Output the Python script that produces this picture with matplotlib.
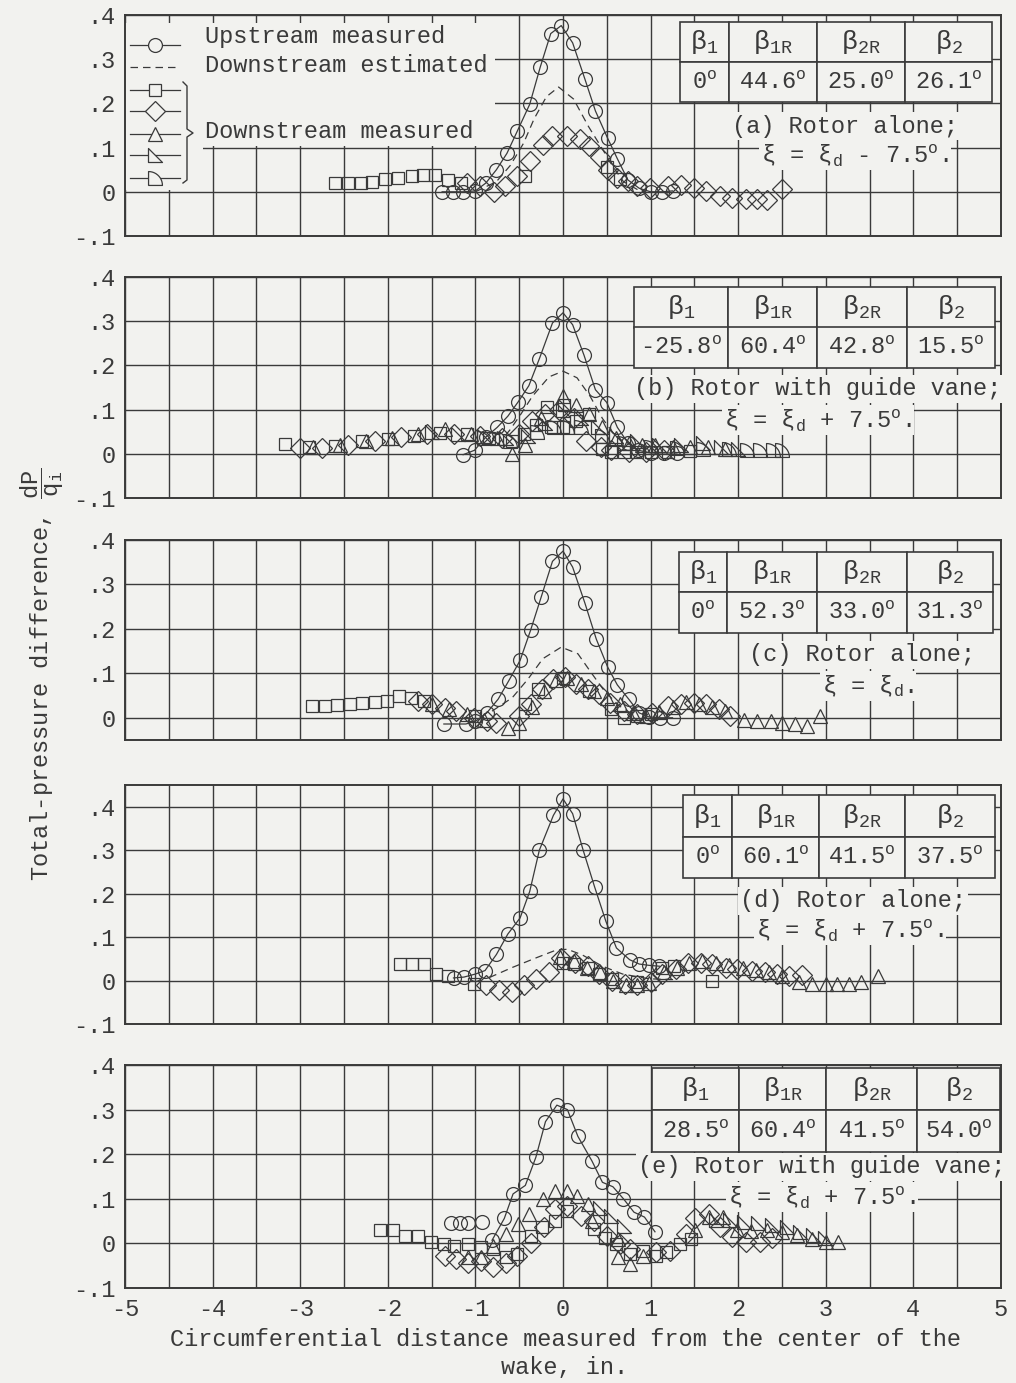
import numpy as np
import matplotlib.pyplot as plt
from matplotlib.path import Path
from matplotlib.patches import Rectangle

plt.rcParams['font.family'] = ['Liberation Mono', 'DejaVu Sans Mono']
plt.rcParams['mathtext.fontset'] = 'custom'
plt.rcParams['mathtext.rm'] = 'Liberation Mono'
plt.rcParams['mathtext.it'] = 'Liberation Mono'
plt.rcParams['mathtext.default'] = 'regular'
plt.rcParams['axes.unicode_minus'] = False

bg = '#f2f2ef'
ink = '#3a3a3a'

# ---- data (x in inches, y = dP/qi) ----
# (a) rotor alone, xi = xi_d - 7.5
up_a_x = [-1.38, -1.26, -1.14, -1.00, -0.88, -0.76, -0.64, -0.52, -0.38, -0.26, -0.14, -0.02, 0.11, 0.25, 0.37, 0.51, 0.62, 0.74, 0.87, 1.00, 1.13, 1.25]
up_a_y = [0.0, 0.0, 0.0, 0.002, 0.02, 0.05, 0.087, 0.138, 0.198, 0.282, 0.358, 0.376, 0.337, 0.255, 0.183, 0.121, 0.075, 0.027, 0.008, 0.0, 0.0, 0.002]
est_a_x = [-1.0, -0.76, -0.6, -0.45, -0.33, -0.19, -0.05, 0.12, 0.29, 0.44, 0.57, 0.69, 0.85]
est_a_y = [0.0, 0.023, 0.06, 0.11, 0.165, 0.215, 0.237, 0.21, 0.148, 0.10, 0.057, 0.023, 0.005]
sq_a_x = [-2.60, -2.45, -2.31, -2.18, -2.03, -1.88, -1.72, -1.60, -1.46, -1.31, -1.17, -0.43, 0.50, 0.65]
sq_a_y = [0.02, 0.02, 0.02, 0.022, 0.028, 0.032, 0.035, 0.038, 0.038, 0.027, 0.02, 0.035, 0.057, 0.03]
dia_a_x = [-1.10, -0.95, -0.79, -0.66, -0.53, -0.38, -0.23, -0.12, 0.04, 0.19, 0.30, 0.42, 0.51, 0.62, 0.74, 0.85, 0.99, 1.20, 1.35, 1.50, 1.63, 1.79, 1.93, 2.09, 2.22, 2.33, 2.50]
dia_a_y = [0.02, 0.012, 0.0, 0.012, 0.035, 0.069, 0.106, 0.127, 0.127, 0.12, 0.104, 0.078, 0.05, 0.032, 0.024, 0.014, 0.009, 0.012, 0.016, 0.009, 0.002, -0.009, -0.015, -0.017, -0.017, -0.018, 0.006]

# (b) rotor with guide vane, xi = xi_d + 7.5
up_b_x = [-1.14, -1.01, -0.88, -0.75, -0.63, -0.51, -0.39, -0.27, -0.12, 0.0, 0.11, 0.24, 0.37, 0.50, 0.62, 0.74, 0.86, 1.0, 1.15, 1.30]
up_b_y = [-0.002, 0.008, 0.038, 0.06, 0.085, 0.118, 0.154, 0.215, 0.296, 0.319, 0.292, 0.223, 0.145, 0.116, 0.06, 0.025, 0.008, 0.002, 0.002, 0.002]
est_b_x = [-0.75, -0.61, -0.48, -0.35, -0.16, 0.0, 0.16, 0.31, 0.45, 0.6, 0.75]
est_b_y = [0.02, 0.053, 0.09, 0.13, 0.174, 0.187, 0.172, 0.13, 0.08, 0.04, 0.02]
sq_b_x = [-3.17, -2.9, -2.6, -2.3, -2.0, -1.7, -1.4, -1.1, -0.85, -0.58, -0.45, -0.31, -0.18, -0.14, 0.0, 0.01, 0.15, 0.30, 0.45, 0.55, 0.70, 0.85, 1.0, 1.2, 1.45]
sq_b_y = [0.022, 0.016, 0.018, 0.028, 0.034, 0.04, 0.048, 0.045, 0.035, 0.03, 0.045, 0.065, 0.107, 0.061, 0.061, 0.11, 0.075, 0.09, 0.01, 0.003, 0.003, 0.004, 0.004, 0.005, 0.006]
dia_b_x = [-3.0, -2.75, -2.45, -2.15, -1.85, -1.55, -1.25, -0.95, -0.7, -0.5, -0.35, -0.2, -0.05, 0.125, 0.26, 0.43, 0.55, 0.75, 0.95, 1.15]
dia_b_y = [0.012, 0.012, 0.02, 0.03, 0.037, 0.045, 0.045, 0.04, 0.035, 0.045, 0.075, 0.09, 0.1, 0.08, 0.03, 0.015, 0.008, 0.005, 0.005, 0.008]
tri_b_x = [-2.85, -2.55, -2.25, -1.95, -1.65, -1.35, -1.05, -0.75, -0.58, -0.43, -0.25, 0.0, 0.15, 0.3, 0.45, 0.6, 0.75, 0.9, 1.05, 1.25, 1.45, 1.65, 1.85]
tri_b_y = [0.015, 0.02, 0.03, 0.035, 0.045, 0.055, 0.045, 0.035, 0.0, 0.02, 0.08, 0.131, 0.11, 0.09, 0.06, 0.035, 0.025, 0.02, 0.02, 0.015, 0.015, 0.015, 0.01]
rt_b_x = [-1.5, -1.2, -0.9, -0.65, -0.4, -0.2, 0.0, 0.2, 0.4, 0.6, 0.85, 1.1, 1.35, 1.6, 1.8, 2.0]
rt_b_y = [0.05, 0.045, 0.04, 0.035, 0.04, 0.07, 0.1, 0.08, 0.06, 0.04, 0.03, 0.02, 0.02, 0.025, 0.015, 0.01]
ds_b_x = [-0.9, -0.6, -0.3, -0.1, 0.05, 0.2, 0.45, 0.7, 1.0, 1.3, 1.6, 1.9, 2.1, 2.25, 2.4, 2.5]
ds_b_y = [0.035, 0.03, 0.05, 0.06, 0.06, 0.06, 0.04, 0.025, 0.015, 0.012, 0.01, 0.01, 0.008, 0.008, 0.008, 0.008]

# (c) rotor alone, xi = xi_d
up_c_x = [-1.36, -1.11, -1.0, -0.87, -0.74, -0.62, -0.49, -0.37, -0.25, -0.12, 0.0, 0.11, 0.25, 0.38, 0.51, 0.62, 0.75, 0.87, 0.98, 1.11, 1.25]
up_c_y = [-0.014, -0.014, -0.008, 0.011, 0.042, 0.083, 0.129, 0.197, 0.271, 0.352, 0.375, 0.339, 0.258, 0.177, 0.114, 0.074, 0.042, 0.011, 0.002, 0.0, 0.0]
est_c_x = [-0.81, -0.58, -0.40, -0.23, -0.02, 0.17, 0.32, 0.47, 0.64, 0.77]
est_c_y = [0.015, 0.045, 0.087, 0.133, 0.159, 0.144, 0.102, 0.061, 0.027, 0.011]
sq_c_x = [-2.87, -2.72, -2.58, -2.43, -2.29, -2.15, -2.01, -1.87, -1.73, -1.59, -1.0, -0.43, -0.28, 0.0, 0.3, 0.55, 0.70, 0.85, 1.0]
sq_c_y = [0.027, 0.027, 0.029, 0.03, 0.034, 0.036, 0.038, 0.049, 0.045, 0.038, 0.005, 0.03, 0.064, 0.09, 0.06, 0.02, 0.0, 0.005, 0.008]
dia_c_x = [-1.65, -1.5, -1.35, -1.22, -1.02, -0.87, -0.76, -0.5, -0.37, -0.24, -0.11, 0.02, 0.15, 0.28, 0.41, 0.54, 0.70, 0.85, 1.02, 1.2, 1.35, 1.5, 1.63, 1.78, 1.91]
dia_c_y = [0.038, 0.03, 0.023, 0.015, 0.0, -0.008, -0.011, 0.004, 0.03, 0.064, 0.087, 0.091, 0.076, 0.064, 0.053, 0.034, 0.015, 0.008, 0.011, 0.027, 0.032, 0.034, 0.03, 0.019, 0.004]
tri_c_x = [-1.5, -1.3, -1.1, -0.9, -0.63, -0.5, -0.35, -0.22, -0.08, 0.05, 0.2, 0.35, 0.5, 0.65, 0.8, 0.95, 1.1, 1.25, 1.4, 1.55, 1.7, 1.85, 2.07, 2.22, 2.37, 2.5, 2.65, 2.78, 2.93]
tri_c_y = [0.03, 0.02, 0.008, -0.005, -0.023, -0.012, 0.025, 0.06, 0.085, 0.09, 0.075, 0.06, 0.045, 0.03, 0.01, 0.005, 0.012, 0.025, 0.035, 0.03, 0.025, 0.015, -0.004, -0.008, -0.008, -0.011, -0.015, -0.019, 0.004]

# (d) rotor alone, xi = xi_d + 7.5
up_d_x = [-1.25, -1.13, -1.0, -0.89, -0.76, -0.63, -0.49, -0.38, -0.27, -0.11, 0.0, 0.11, 0.23, 0.36, 0.49, 0.61, 0.76, 0.87, 0.98, 1.1]
up_d_y = [0.006, 0.008, 0.015, 0.023, 0.06, 0.107, 0.144, 0.205, 0.30, 0.38, 0.418, 0.384, 0.30, 0.216, 0.136, 0.075, 0.048, 0.038, 0.035, 0.033]
est_d_x = [-0.84, -0.58, -0.31, -0.08, 0.05, 0.22, 0.45, 0.68, 0.98, 1.3]
est_d_y = [0.007, 0.03, 0.052, 0.07, 0.072, 0.059, 0.033, 0.015, 0.004, 0.002]
sq_d_x = [-1.86, -1.72, -1.59, -1.45, -1.31, -1.02, 0.0, 0.125, 0.28, 0.41, 0.56, 0.85, 1.13, 1.27, 1.7]
sq_d_y = [0.038, 0.038, 0.038, 0.015, 0.01, -0.007, 0.041, 0.037, 0.03, 0.015, 0.004, -0.004, 0.03, 0.033, 0.0]
dia_d_x = [-0.88, -0.73, -0.58, -0.44, -0.31, -0.16, -0.02, 0.14, 0.28, 0.41, 0.56, 0.71, 0.85, 1.0, 1.13, 1.29, 1.43, 1.57, 1.70, 1.86, 1.99, 2.16, 2.31, 2.44, 2.58, 2.73]
dia_d_y = [-0.011, -0.022, -0.026, -0.011, 0.004, 0.02, 0.052, 0.041, 0.033, 0.015, 0.0, -0.007, -0.011, -0.004, 0.015, 0.026, 0.04, 0.041, 0.039, 0.03, 0.026, 0.022, 0.02, 0.015, 0.011, 0.013]
tri_d_x = [-0.03, 0.12, 0.27, 0.42, 0.57, 0.72, 0.84, 0.98, 1.15, 1.3, 1.44, 1.59, 1.75, 1.9, 2.05, 2.2, 2.35, 2.5, 2.69, 2.84, 3.0, 3.13, 3.26, 3.4, 3.6]
tri_d_y = [0.054, 0.045, 0.03, 0.02, 0.0, -0.01, -0.011, -0.005, 0.02, 0.03, 0.041, 0.044, 0.04, 0.035, 0.03, 0.025, 0.02, 0.01, -0.004, -0.007, -0.007, -0.007, -0.007, -0.004, 0.01]

# (e) rotor with guide vane, xi = xi_d + 7.5
up_e_x = [-0.81, -0.67, -0.57, -0.43, -0.31, -0.2, -0.07, 0.05, 0.17, 0.33, 0.45, 0.57, 0.69, 0.81, 0.93, 1.05]
up_e_y = [0.007, 0.056, 0.111, 0.13, 0.193, 0.273, 0.31, 0.30, 0.24, 0.185, 0.137, 0.127, 0.10, 0.07, 0.059, 0.026]
upx_e_x = [-1.28, -1.18, -1.08, -0.93]
upx_e_y = [0.045, 0.045, 0.045, 0.048]
sq_e_x = [-2.09, -1.94, -1.80, -1.65, -1.51, -1.36, -1.24, -1.09, -0.94, -0.80, -0.65, -0.52, -0.37, -0.24, -0.09, 0.05, 0.35, 0.48, 0.61, 0.76, 0.91, 1.06, 1.18, 1.33, 1.46]
sq_e_y = [0.03, 0.03, 0.017, 0.017, 0.004, -0.001, -0.005, -0.001, -0.009, -0.013, -0.031, -0.024, 0.017, 0.036, 0.051, 0.073, 0.032, 0.013, -0.001, -0.024, -0.016, -0.028, -0.02, -0.001, 0.01]
dia_e_x = [-1.35, -1.22, -1.09, -0.94, -0.80, -0.65, -0.52, -0.37, -0.22, -0.09, 0.05, 0.2, 0.35, 0.5, 0.65, 0.76, 1.06, 1.22, 1.4, 1.51, 1.67, 1.79, 1.93, 2.09, 2.25, 2.39]
dia_e_y = [-0.028, -0.035, -0.043, -0.039, -0.054, -0.045, -0.028, 0.002, 0.036, 0.077, 0.084, 0.062, 0.051, 0.017, -0.001, -0.013, -0.02, -0.016, 0.021, 0.056, 0.067, 0.037, 0.015, 0.004, 0.004, 0.011]
tri_e_x = [-1.09, -0.94, -0.80, -0.65, -0.51, -0.39, -0.23, -0.09, 0.05, 0.16, 0.29, 0.33, 0.63, 0.63, 0.76, 0.91, 1.51, 1.67, 1.83, 1.99, 2.15, 2.33, 2.5, 2.67, 2.84, 3.0, 3.14]
tri_e_y = [-0.031, -0.031, -0.005, 0.021, 0.043, 0.066, 0.1, 0.118, 0.118, 0.107, 0.088, 0.051, 0.01, -0.031, -0.046, -0.028, 0.03, 0.06, 0.06, 0.03, 0.028, 0.03, 0.026, 0.018, 0.01, 0.004, 0.004]
rt_e_x = [0.42, 0.55, 0.70, 1.75, 1.91, 2.07, 2.23, 2.39, 2.56, 2.71, 2.85, 2.99]
rt_e_y = [0.08, 0.062, 0.04, 0.052, 0.052, 0.049, 0.045, 0.041, 0.037, 0.026, 0.019, 0.011]

# table values and captions
heads = [r'$\beta_1$', r'$\beta_{1R}$', r'$\beta_{2R}$', r'$\beta_2$']
vals_a = ['0$^o$', '44.6$^o$', '25.0$^o$', '26.1$^o$']
vals_b = ['-25.8$^o$', '60.4$^o$', '42.8$^o$', '15.5$^o$']
vals_c = ['0$^o$', '52.3$^o$', '33.0$^o$', '31.3$^o$']
vals_d = ['0$^o$', '60.1$^o$', '41.5$^o$', '37.5$^o$']
vals_e = ['28.5$^o$', '60.4$^o$', '41.5$^o$', '54.0$^o$']
cap1 = ['(a) Rotor alone;', '(b) Rotor with guide vane;', '(c) Rotor alone;',
        '(d) Rotor alone;', '(e) Rotor with guide vane;']
cap2 = [r'$\xi$ = $\xi_d$ - 7.5$^o$.', r'$\xi$ = $\xi_d$ + 7.5$^o$.', r'$\xi$ = $\xi_d$.',
        r'$\xi$ = $\xi_d$ + 7.5$^o$.', r'$\xi$ = $\xi_d$ + 7.5$^o$.']

# custom marker shapes
rtri = Path([(-1, 1), (-1, -1), (1, -1), (-1, 1)], [1, 2, 2, 79])
t = np.linspace(np.pi / 2, 0, 12)
dsh = Path(np.vstack([[-1, -1], np.c_[-1 + 2 * np.cos(t), -1 + 2 * np.sin(t)], [-1, -1]]))

# layout in pixels of the 1016x1383 page
L, R = 125, 1001
tops = [15, 277, 540, 785, 1065]
bots = [236, 498, 740, 1024, 1288]
ylims = [(-0.1, 0.4), (-0.1, 0.4), (-0.05, 0.4), (-0.1, 0.45), (-0.1, 0.4)]
tab_px = [(680, 22, 992, 102), (634, 287, 995, 368), (679, 552, 993, 633),
          (683, 795, 995, 878), (652, 1068, 1000, 1152)]
tab_cols = [[49, 88, 88, 87], [94, 89, 90, 88], [48, 90, 90, 86], [49, 87, 86, 90], [87, 87, 91, 83]]
cap_px = [((845, 126), (855, 155)), ((818, 389), (818, 420)), ((862, 655), (868, 686)),
          ((853, 901), (850, 930)), ((822, 1167), (822, 1197))]

W, H = 1016, 1383
fig = plt.figure(figsize=(W / 100, H / 100), dpi=100, facecolor=bg)

mk = dict(ls='none', mfc='none', mec=ink, mew=0.9)
fs = 17

def to_ax(px, py, i):
    return (px - L) / (R - L), (bots[i] - py) / (bots[i] - tops[i])

def ylab(v):
    if v == 0:
        return '0'
    s = '%.1f' % v
    return s.replace('0.', '.')

axes = []
for i in range(5):
    ax = fig.add_axes([L / W, 1 - bots[i] / H, (R - L) / W, (bots[i] - tops[i]) / H])
    ax.set_facecolor(bg)
    ax.set_xlim(-5, 5)
    ax.set_ylim(*ylims[i])
    ax.set_xticks(np.arange(-5, 5.01, 0.5))
    if i == 4:
        ax.set_xticklabels(['%d' % v if v == int(v) else '' for v in np.arange(-5, 5.01, 0.5)])
    else:
        ax.set_xticklabels([])
    yt = np.arange(-0.1, 0.41, 0.1) if ylims[i][0] < -0.09 else np.arange(0, 0.41, 0.1)
    ax.set_yticks(yt)
    ax.set_yticklabels([ylab(round(v, 1)) for v in yt])
    ax.tick_params(length=0, labelsize=fs, colors=ink, pad=7)
    ax.set_axisbelow(True)
    ax.grid(True, color=ink, lw=1.0)
    for sp in ax.spines.values():
        sp.set_color(ink)
        sp.set_linewidth(1.4)

    # table
    x0, y0, x1, y1 = tab_px[i]
    bx0, by1 = to_ax(x0, y0, i)
    bx1, by0 = to_ax(x1, y1, i)
    vals = [vals_a, vals_b, vals_c, vals_d, vals_e][i]
    tb = ax.table(cellText=[heads, vals], cellLoc='center', colWidths=tab_cols[i],
                  bbox=[bx0, by0, bx1 - bx0, by1 - by0])
    tb.auto_set_font_size(False)
    tb.set_zorder(5)
    for (r, c), cell in tb.get_celld().items():
        cell.set_edgecolor(ink)
        cell.set_facecolor(bg)
        cell.set_linewidth(1.2)
        cell.get_text().set_fontsize(19 if r == 0 else fs)
        cell.get_text().set_color(ink)

    for (cx, cy), s in zip(cap_px[i], [cap1[i], cap2[i]]):
        tx, ty = to_ax(cx, cy, i)
        ax.text(tx, ty, s, transform=ax.transAxes, ha='center', va='center', fontsize=fs,
                color=ink, zorder=5, bbox=dict(fc=bg, ec='none', pad=1.5))
    axes.append(ax)

ax_a, ax_b, ax_c, ax_d, ax_e = axes

def upstream(ax, x, y):
    ax.plot(x, y, '-o', color=ink, lw=0.9, ms=10, mfc='none', mec=ink, mew=0.9, zorder=3)

def estimated(ax, x, y):
    ax.plot(x, y, '--', color=ink, lw=0.9, dashes=(6, 4), zorder=3)

ms_sq, ms_d, ms_t = 9, 10, 10

upstream(ax_a, up_a_x, up_a_y)
estimated(ax_a, est_a_x, est_a_y)
ax_a.plot(sq_a_x, sq_a_y, marker='s', ms=ms_sq, **mk)
ax_a.plot(dia_a_x, dia_a_y, marker='D', ms=ms_d, **mk)

upstream(ax_b, up_b_x, up_b_y)
estimated(ax_b, est_b_x, est_b_y)
ax_b.plot(sq_b_x, sq_b_y, marker='s', ms=ms_sq, **mk)
ax_b.plot(dia_b_x, dia_b_y, marker='D', ms=ms_d, **mk)
ax_b.plot(tri_b_x, tri_b_y, marker='^', ms=ms_t, **mk)
ax_b.plot(rt_b_x, rt_b_y, marker=rtri, ms=ms_t, **mk)
ax_b.plot(ds_b_x, ds_b_y, marker=dsh, ms=ms_t, **mk)

upstream(ax_c, up_c_x, up_c_y)
estimated(ax_c, est_c_x, est_c_y)
ax_c.plot(sq_c_x, sq_c_y, marker='s', ms=ms_sq, **mk)
ax_c.plot(dia_c_x, dia_c_y, marker='D', ms=ms_d, **mk)
ax_c.plot(tri_c_x, tri_c_y, marker='^', ms=ms_t, **mk)

upstream(ax_d, up_d_x, up_d_y)
estimated(ax_d, est_d_x, est_d_y)
ax_d.plot(sq_d_x, sq_d_y, marker='s', ms=ms_sq, **mk)
ax_d.plot(dia_d_x, dia_d_y, marker='D', ms=ms_d, **mk)
ax_d.plot(tri_d_x, tri_d_y, marker='^', ms=ms_t, **mk)

upstream(ax_e, up_e_x, up_e_y)
ax_e.plot(upx_e_x, upx_e_y, marker='o', ms=10, **mk)
ax_e.plot(sq_e_x, sq_e_y, marker='s', ms=ms_sq, **mk)
ax_e.plot(dia_e_x, dia_e_y, marker='D', ms=ms_d, **mk)
ax_e.plot(tri_e_x, tri_e_y, marker='^', ms=ms_t, **mk)
ax_e.plot(rt_e_x, rt_e_y, marker=rtri, ms=ms_t, **mk)

# legend block in panel (a), gridlines blanked behind it
tr = ax_a.transAxes
p0 = to_ax(125, 23, 0)
p1 = to_ax(203, 190, 0)
p2 = to_ax(495, 146, 0)
ax_a.add_patch(Rectangle((0, p1[1]), p1[0], p0[1] - p1[1], transform=tr, fc=bg, ec='none', zorder=1))
ax_a.add_patch(Rectangle((p1[0], p2[1]), p2[0] - p1[0], p0[1] - p2[1], transform=tr, fc=bg, ec='none', zorder=1))

lx0, lxm, lx1 = [(v - L) / (R - L) for v in (130, 155, 180)]
rows = [45, 67, 90, 111, 134, 155, 178]
syms = ['o', None, 's', 'D', '^', rtri, dsh]
sizes = [10, 0, ms_sq, ms_d, ms_t, ms_t, ms_t]
for py, m, sz in zip(rows, syms, sizes):
    yy = to_ax(0, py, 0)[1]
    if m is None:
        ax_a.plot([lx0, lx1], [yy, yy], transform=tr, color=ink, lw=0.9, dashes=(6, 4), zorder=4)
    else:
        ax_a.plot([lx0, lx1], [yy, yy], transform=tr, color=ink, lw=0.9, zorder=4)
        ax_a.plot([lxm], [yy], transform=tr, marker=m, ms=sz,
                  mfc=bg, mec=ink, mew=0.9, ls='none', zorder=4)

# brace
bx = [183, 187, 187, 193, 187, 187, 183]
by = [82, 86, 129, 133, 137, 180, 183]
ax_a.plot([(v - L) / (R - L) for v in bx], [to_ax(0, v, 0)[1] for v in by],
          transform=tr, color=ink, lw=1.0, zorder=4)

for s, py in [('Upstream measured', 36), ('Downstream estimated', 65), ('Downstream measured', 132)]:
    tx, ty = to_ax(205, py, 0)
    ax_a.text(tx, ty, s, transform=tr, ha='left', va='center', fontsize=fs, color=ink, zorder=4)

fig.text(42 / W, 1 - 674 / H, r'Total-pressure difference, $\dfrac{dP}{q_i}$', rotation=90,
         ha='center', va='center', fontsize=fs, color=ink)
fig.text(565 / W, 1 - 1340 / H, 'Circumferential distance measured from the center of the',
         ha='center', va='center', fontsize=fs, color=ink)
fig.text(565 / W, 1 - 1368 / H, 'wake, in.', ha='center', va='center', fontsize=fs, color=ink)

fig.savefig('out.png', dpi=100, facecolor=bg)
